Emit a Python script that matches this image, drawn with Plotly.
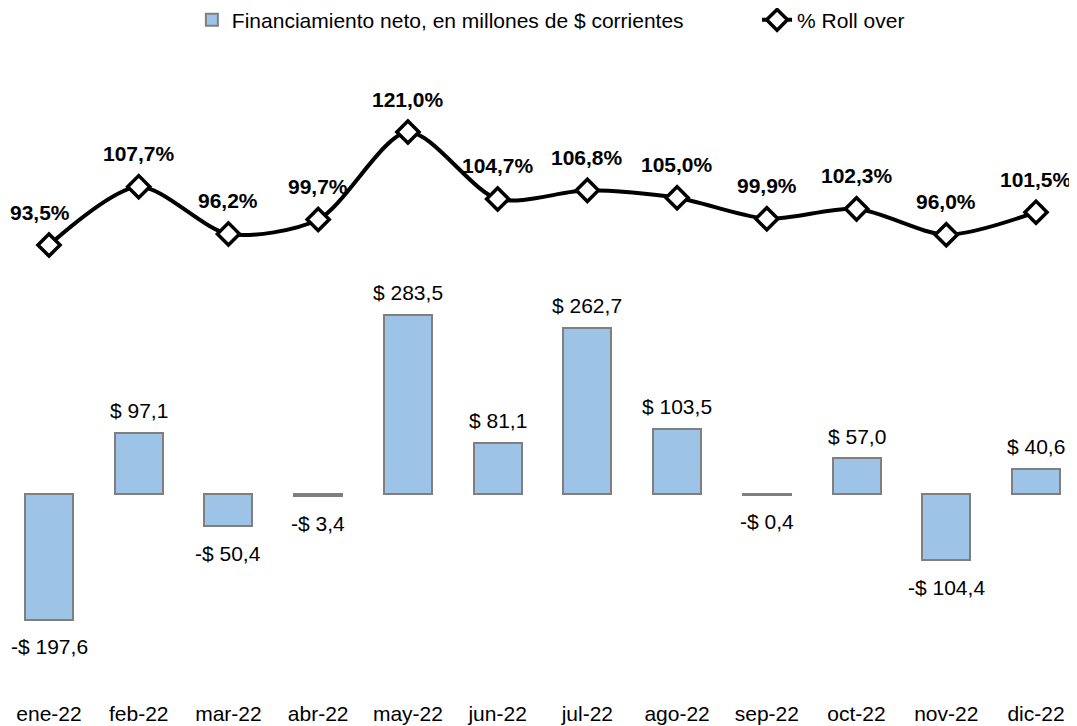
import plotly.graph_objects as go

months = ["ene-22", "feb-22", "mar-22", "abr-22", "may-22", "jun-22",
          "jul-22", "ago-22", "sep-22", "oct-22", "nov-22", "dic-22"]
financiamiento = [-197.6, 97.1, -50.4, -3.4, 283.5, 81.1, 262.7, 103.5, -0.4, 57.0, -104.4, 40.6]
rollover = [93.5, 107.7, 96.2, 99.7, 121.0, 104.7, 106.8, 105.0, 99.9, 102.3, 96.0, 101.5]

FONT = "Liberation Sans, Arial, sans-serif"
FS = 21

def fmt_money(v):
    s = f"{abs(v):.1f}".replace(".", ",")
    return ("-$ " if v < 0 else "$ ") + s

def fmt_pct(v):
    return f"{v:.1f}".replace(".", ",") + "%"

x_idx = list(range(len(months)))

fig = go.Figure()
fig.add_trace(go.Bar(
    x=x_idx, y=financiamiento, width=0.535,
    name="Financiamiento neto, en millones de $ corrientes",
    marker=dict(color="#9DC3E6", line=dict(color="#7F7F7F", width=2)),
    yaxis="y", legend="legend",
))
fig.add_trace(go.Scatter(
    x=x_idx, y=rollover, mode="lines+markers", name="% Roll over",
    line=dict(color="black", width=4, shape="spline", smoothing=0.8),
    marker=dict(symbol="diamond", size=17, color="white",
                line=dict(color="black", width=3.5)),
    yaxis="y2", legend="legend2",
))

annotations = []
for i, v in enumerate(financiamiento):
    annotations.append(dict(
        x=i, y=v, xref="x", yref="y", text=fmt_money(v), showarrow=False,
        yanchor="middle", xanchor="center",
        yshift=22 if v >= 0 else -27,
        font=dict(family=FONT, size=FS, color="black"),
    ))
for i, v in enumerate(rollover):
    annotations.append(dict(
        x=i, y=v, xref="x", yref="y2", text="<b>" + fmt_pct(v) + "</b>", showarrow=False,
        yanchor="middle", xanchor="center", yshift=33, xshift=(-9 if i == 0 else 0),
        font=dict(family=FONT, size=FS, color="black"),
    ))

legend_common = dict(orientation="h", yref="container", y=0.983, yanchor="middle",
                     xanchor="left",
                     font=dict(family=FONT, size=FS, color="black"),
                     bgcolor="rgba(0,0,0,0)")

fig.update_layout(
    width=1069, height=718,
    margin=dict(l=0, r=0, t=42, b=27, autoexpand=False),
    paper_bgcolor="white", plot_bgcolor="white",
    font=dict(family=FONT, size=FS, color="black"),
    showlegend=True,
    legend=dict(x=0.172, **legend_common),
    legend2=dict(x=0.7007, **legend_common),
    xaxis=dict(range=[-0.457, 11.457], tickmode="array", tickvals=x_idx, ticktext=months,
               showgrid=False, zeroline=False, showline=False, ticks="",
               tickfont=dict(family=FONT, size=FS, color="black")),
    yaxis=dict(range=[-322.9, 700.8], visible=False, showgrid=False, zeroline=False),
    yaxis2=dict(range=[-16.95, 140.95], overlaying="y", visible=False,
                showgrid=False, zeroline=False),
    annotations=annotations,
    bargap=0,
)

fig.write_html("out.html")
